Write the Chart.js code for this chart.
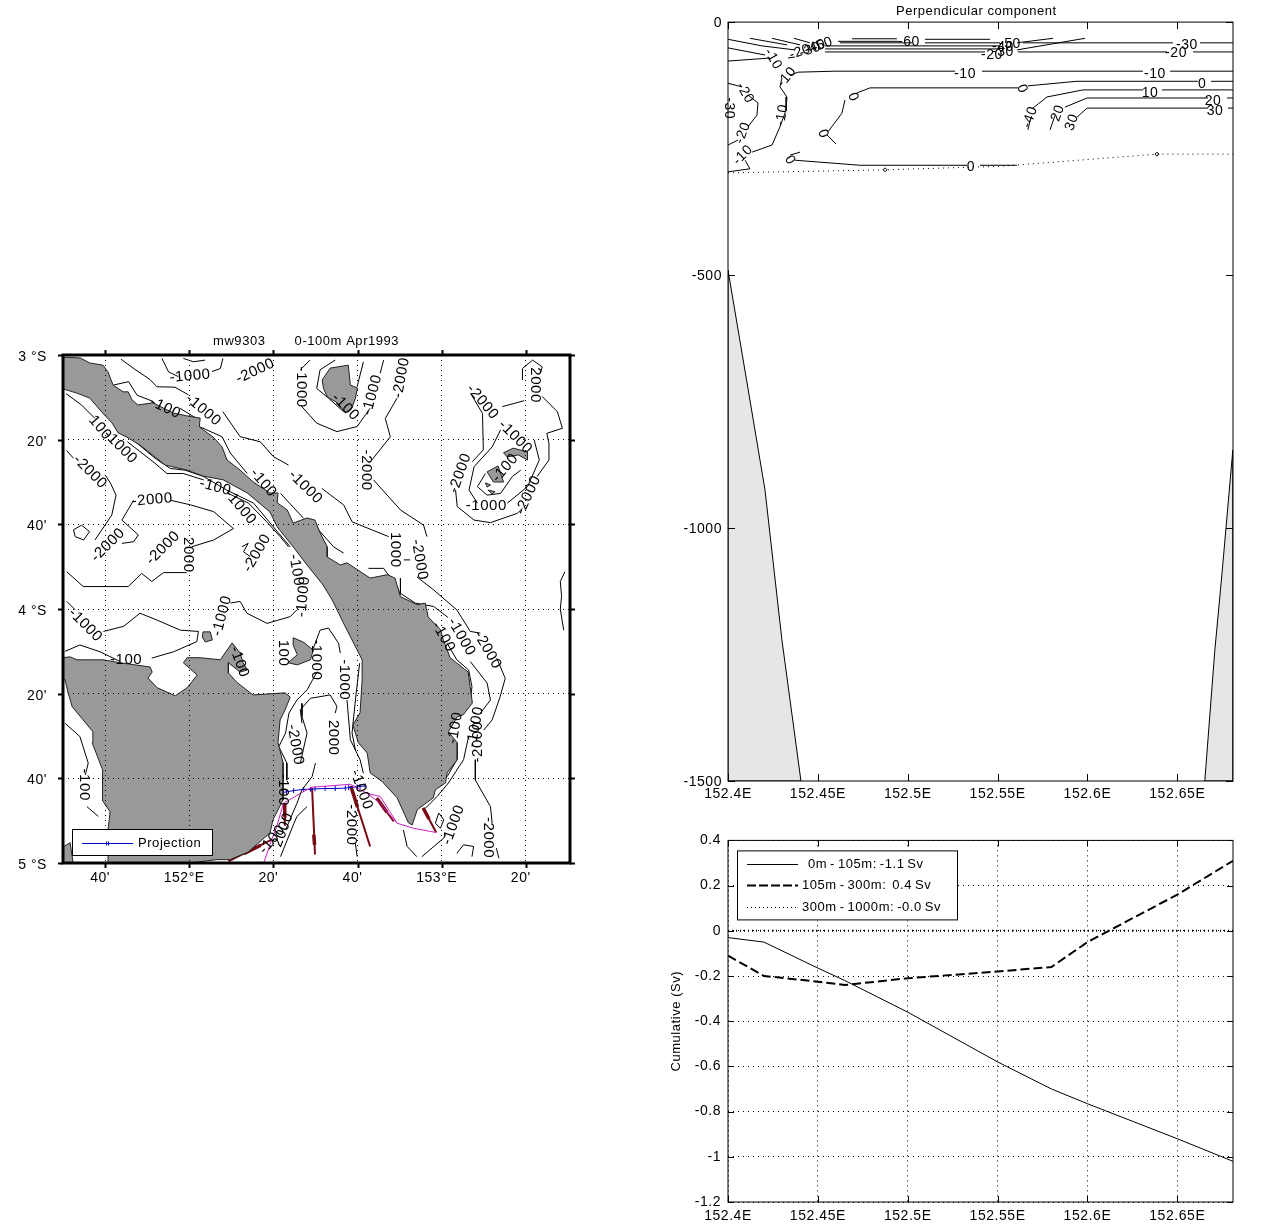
<!DOCTYPE html>
<html><head><meta charset="utf-8">
<style>html,body{margin:0;padding:0;background:#fff}canvas{position:absolute}</style>
<script src="https://cdn.jsdelivr.net/npm/chart.js@4"></script>
</head><body>
<canvas id="map" style="left:0;top:330px" width="600" height="570"></canvas>
<canvas id="sec" style="left:660px;top:0" width="604" height="810"></canvas>
<canvas id="cum" style="left:660px;top:825px" width="604" height="405"></canvas>
<script>
// ---------- MAP: x = arc-minutes east of 151E, y = arc-minutes south of 3S ----------
const mapXTicks=[40,60,80,100,120,140];
const mapXLabels=["40'","152°E","20'","40'","153°E","20'"];
const mapYTicks=[0,20,40,60,80,100,120];
const mapYLabels=["3 °S","20'","40'","4 °S","20'","40'","5 °S"];
const mapTitle="mw9303       0-100m Apr1993     ";
const landNewIreland=[[30,0.5],[34.1,0.7],[36.4,1.9],[39.5,2.4],[40.7,4],[41.9,7.1],[44.3,8.7],[45.5,8.7],[46.4,10.6],[47.8,11.8],[51.4,11.3],[53.8,12.5],[56.2,13.7],[59.5,14.4],[62.6,14.9],[62.4,17],[65.7,19.4],[67.8,21.7],[69,24.8],[72.1,27.2],[75.2,30],[79.2,32.6],[81.1,32.6],[80.9,34.9],[83.3,36.6],[84.7,39.7],[88,38.5],[89.9,39],[91.1,42],[92.8,45.3],[92.8,47.7],[95.9,49.6],[97.5,49.1],[103,52.7],[107.1,51.9],[108.9,52.7],[110.2,57.1],[114.2,59],[116.1,58.6],[116.8,61.9],[119.7,64.9],[120.4,67.3],[122,71.5],[126.3,74.9],[127.3,82.2],[125.1,85],[123.7,85.5],[121.6,89],[123.7,91.6],[123.7,95.6],[121.3,98.7],[120.9,101.1],[118.5,102.7],[118,104.6],[114.2,107.4],[113,111],[112.1,110.5],[109.4,104.6],[105.9,100.8],[103,98.7],[102.3,94],[100.2,91.6],[98.9,87.4],[100.6,84.5],[101.1,76.7],[101.1,72],[97.1,64.2],[94,57.9],[91.8,54.3],[88,49.6],[84.7,45.3],[80.9,40.6],[79.2,37.1],[73.8,32.6],[68.1,29.5],[63.3,28.6],[59.5,27.2],[54.3,26],[51.9,24.1],[48.3,21.3],[45.2,19.4],[43.1,18.4],[41.7,16.1],[38.8,13],[36.4,10.2],[33.3,9],[30,8]];
const landNewBritain=[[30,71.5],[31.7,71.3],[33.3,72],[36.4,72],[39.5,72],[43.6,72.7],[50.7,73.7],[51.2,74.9],[50.2,76.3],[52.4,78.6],[56.7,80.5],[59.5,78.6],[61.9,75.6],[58.6,72.7],[59.5,71.5],[62.6,71.5],[67.4,72],[69,69.7],[70.2,68],[72.1,70.4],[72.8,72.7],[73.8,74.4],[72.1,74.9],[69.3,72.7],[69.3,75.1],[71.4,77.4],[75.2,80.3],[82.8,79.8],[84,80.8],[82.8,83.8],[81.6,86.2],[81.1,91.6],[82.3,96.3],[82.3,105.1],[79.9,109.8],[79.2,112.9],[74,117.4],[69.7,119.2],[66.6,119.2],[60.2,120],[40.7,120],[40.7,112.2],[41.2,107.9],[39.3,105.1],[39.3,102.7],[39.5,98],[37.6,93.3],[36.9,91.6],[37.1,89],[34.8,86.2],[32.2,83.1],[31.2,79.8],[30.5,76.7],[30,76.7]];
const landCorner=[[30,116.2],[31.7,115.2],[32.4,120],[30,120]];
const landDukeYork=[[84.7,66.8],[87.1,67.8],[89.5,69.7],[88.8,72],[85.7,73.2],[83.5,72.7],[85.7,70.8],[84.7,68.5]];
const landSmall=[[63.3,65.4],[65,65.4],[65.5,67.3],[63.8,67.8],[63.1,66.6]];
const landLihir=[[91.6,5.9],[93.5,3.1],[97.8,2.4],[98.3,7.1],[100,7.8],[99.5,10.2],[98.7,12.5],[97.1,13.7],[95.2,11.3],[92.8,9.9],[91.9,7.8]];
const landTabarA=[[134.7,23.1],[137,22],[140.4,22.9],[140.4,24.8],[138.2,23.6],[135.6,24.1]];
const landTabarB=[[130.8,27.6],[133.4,26.2],[134.7,30],[132.3,30]];
const landTabarC=[[130.4,30.2],[131.6,30.7],[130.8,31.2]];
const landTabarD=[[131,31.9],[132.7,32.3],[132,32.8]];
const landPolys=[landNewIreland,landNewBritain,landCorner,landDukeYork,landSmall,landLihir,landTabarA,landTabarB,landTabarC,landTabarD];
const isobaths=[
[[43.8,1],[47.1,3.4],[50.7,5.8],[52.3,7.5],[56.6,7.6],[59.8,9.4]],
[[68,13.4],[72.1,19.3],[76.9,20.5],[80,24],[83.6,26]],
[[91.5,31.5],[96.7,35.4],[98.7,39.4],[103.4,41.3],[107.4,42.9]],
[[111,48.4],[112.5,48.4]],
[[109.4,10.2],[106.6,15],[107.8,19.3],[103.4,24.8]],
[[103.8,29.5],[110.2,36.6],[115.7,40.2],[116.5,42.9]],
[[114.1,52.4],[118.1,55.5],[123.6,60.2],[126.8,65.3],[129.2,65.7]],
[[133.1,71.6],[135.1,76.4],[133.9,80.7],[132,86.2],[130,88.6]],
[[128,95.6],[128,100.4],[131.6,106.7],[132,110.6]],
[[133,116.5],[133.6,118.9]],
[[110.2,52.7],[110.2,56.3],[113.7,58.6],[118.1,59.4],[121.5,62]],
[[126.8,72.4],[130.8,77.5],[131.6,81.5],[129.2,84.6]],
[[126.4,90.1],[125.2,95.6],[121.6,101.1],[118.9,104.3],[116.1,107.1]],
[[121.3,68.1],[123.6,72],[126.4,74.4],[127.2,78.3],[126.8,82.2],[124.4,85]],
[[123.2,91.7],[123.6,95.6],[121.3,99.6]],
[[110.9,112.2],[111.8,116.1],[114.1,118.5]],
[[115.3,118.5],[120.5,114.1],[120.9,113]],
[[123.6,117.7],[125.2,115.7],[127.6,116.1],[127.2,118.5]],
[[118.5,110.6],[119.3,108.2],[120.5,109.8],[119.7,111.8],[118.5,110.6]],
[[99.5,115.3],[99.9,118.5]],
[[149.3,51.2],[148.2,53.5],[148.5,57],[148.2,60],[149,65]],
[[86.8,87],[86.4,83.8],[88.8,81.1],[93.5,80.3],[95.1,83],[94.7,84.6]],
[[89.5,69.3],[91.1,65],[93.1,64.5],[95.5,68.1],[95.9,70.4]],
[[97.5,81.5],[98.3,90.9],[100.6,95.6],[101.4,98.8]],
[[100.5,72.8],[99.5,81.5],[98.7,89.3],[99.5,93.3]],
[[86.8,82.3],[86.8,85.4],[88,89.3],[86.4,96.4]],
[[90,96.4],[89.2,99.6],[86.8,102.7],[85.6,105.9],[82.9,112.2]],
[[83.7,84.6],[82.9,89.3],[81.3,92.5],[83.2,96.4],[83.2,100.4]],
[[88,106.7],[85.6,109],[84.9,110.6],[81.7,118.5]],
[[30.5,70],[34,68.5],[38.8,70.1],[43.6,72.4]],
[[51.1,71.6],[56.3,70.1],[61.8,67.7],[62.2,65.3],[57.9,65],[52.3,62.6],[48.3,61],[44.4,64.1],[39.6,65.3]],
[[30.9,58.2],[32.9,60.2]],
[[69.8,58.6],[72.1,58.2],[73.7,61],[78.5,63.4],[84,61.8],[85.6,60.2]],
[[90.4,74.8],[88,79.1],[85.6,81.5],[83.7,84.6]],
[[30.5,87],[34,90.1],[36,96.4],[35.3,99.2]],
[[35.7,106.7],[38.4,109]],
[[30.9,22.6],[32.5,24.4]],
[[40,28.3],[41.3,30.3],[42.6,33.1],[41.6,37.8],[37.6,43.7]],
[[46.8,34.3],[44,39],[47.9,42.5],[46.8,44.1],[44,44.5]],
[[55.5,34.3],[60.3,35.4],[65.8,37],[70.5,41],[65.8,43.7],[60.6,45.3]],
[[30.9,51.2],[34.8,54.7],[40.4,54.7],[45.5,54.7],[48.7,51.6],[51.1,53.5],[53.9,51.4],[59.4,51.4]],
[[32.5,41.3],[34.4,40.2],[36.3,41.7],[34.9,43.7],[32.9,42.9],[32.5,41.3]],
[[72.5,45.3],[74,44.5],[72.9,46.5],[74.5,47.6]],
[[58.6,0.8],[61,1.6],[63.8,1.2]],
[[53.5,0.8],[55.1,4],[57.4,5.1]],
[[65.4,3.9],[67.4,3.2],[68,0.8]],
[[30.7,9.1],[34.4,11.8],[37.6,15]],
[[45.3,20.5],[48.3,22.8],[51.9,25.6],[54.7,28],[58.6,28],[63.4,29.5]],
[[69.3,32.7],[74.1,35],[78.4,39.4],[81.6,42.9],[83.6,45.3]],
[[46.7,20.1],[51.9,24.4],[55.5,26.8],[59,27.2],[63.4,28.7],[68.9,31.9],[75.3,35],[80,40.6],[84,45.3]],
[[42,7.1],[45.6,6.3],[47.6,9.5],[51.5,11]],
[[57.8,12.6],[61.8,15]],
[[62.6,17],[67.8,19.3],[69.8,23.2],[73.8,28]],
[[81.7,32.7],[87.2,38.6]],
[[90,40.5],[94.3,45.3],[96.7,46.8]],
[[102.6,50.4],[106.2,50.4],[109.4,54.7],[110.2,56.7]],
[[90.3,7.9],[91.1,3.5],[94.7,1.2]],
[[90.3,7.9],[93.1,10.2],[96.7,13.4]],
[[86.4,11.8],[90.3,16.1],[95.1,18.1],[99.9,16.9],[103,12.6]],
[[105.4,4.3],[106.2,1.2]],
[[99.9,7.5],[101.4,1.6]],
[[88.7,1.2],[86.4,3.5]],
[[126.9,9.1],[129.7,13.8],[129.9,22.4],[127.3,25.2]],
[[123.3,31.9],[123.7,35.8],[127.7,39],[131.6,39.6],[138,37.4],[139.2,36.2]],
[[142.7,28.7],[145.5,24.8],[145.5,20.9],[145,18.5],[148.7,17.3],[147.5,13.4],[143.9,9.8]],
[[139.2,5.9],[139.2,3.2],[141.6,1.2],[143.9,2.8],[143.5,4.3]],
[[134.4,12.2],[139.6,10.8]],
[[134,17.7],[132,21.7],[127.7,26.4],[126.5,31.9],[128.5,35]],
[[135.6,35],[140.4,31.1],[143.2,24.8],[142,20.1]],
[[130.4,28],[128.5,31.1],[130.8,33.1],[134,32.7],[136.8,28.7],[138.8,27.2]]
];
const mapContourLabels=[
[60.2,5,"-1000",-5],[75.7,3.8,"-2000",-25],[86.6,7.6,"-1000",90],[63.3,13,"-1000",40],[97.1,12.3,"-100",45],[103.5,9.4,"-1000",-75],[110.4,5.4,"-2000",-80],[129.7,11.1,"-2000",50],[142.3,7.1,"2000",90],[54.3,12.5,"-100",25],[38.8,17.2,"100",50],[43.6,21.7,"-1000",45],[36.4,27.6,"-2000",45],[51.2,34.2,"-2000",-5],[66.2,31.2,"-100",15],[72.1,35.9,"-1000",50],[77.6,30.2,"-100",50],[87.6,31.2,"-1000",45],[102.1,27.2,"-2000",90],[124.4,27.9,"-2000",-70],[137.5,19.4,"-1000",45],[135.1,26.7,"-100",-50],[130.6,35.7,"-1000",0],[140.6,33.1,"-2000",-65],[40.7,44.9,"-2000",-45],[53.8,45.6,"-2000",-45],[59.7,47.2,"2000",90],[76.1,46.8,"-2000",-60],[108.9,46,"1000",90],[114.7,48.4,"-2000",80],[85.4,50.8,"-100",80],[87.1,57.1,"-1000",-85],[35.3,63.8,"-1000",45],[67.8,61.6,"-1000",-75],[45,72,"-100",0],[71.9,72.5,"-100",70],[82.3,70.4,"100",90],[90.2,72,"-1000",90],[96.8,76.7,"-1000",90],[120.4,66.6,"-100",60],[124.7,66.6,"-1000",60],[130.9,69.7,"-2000",60],[123.2,88.1,"-100",-80],[128,87.8,"-1000",-80],[128.7,91.4,"-2000",-90],[94.2,90.4,"2000",90],[85.2,92.1,"-2000",80],[35,101.5,"-100",90],[82.3,102.7,"-100",90],[100.9,102.7,"-1000",70],[98.5,111,"-2000",90],[122.8,111,"-1000",-70],[131.1,114,"-2000",90],[82.3,112.2,"2000",-70],[79.7,114.5,"-100",-50]
];
const transectPath=[[77.7,120],[79.6,114.5],[80.8,111.4],[82.4,105.9],[87.2,103.1],[89.2,102.1],[98.3,101.4],[102.2,103.5],[105.4,105.9],[109.4,110.6],[113.3,111.8],[118.7,112.8]];
const transectBranch=[[102.2,103.5],[105.4,104.3],[107.4,107.4],[109.4,110.6]];
const projection=[[82.4,103.3],[83.1,103.2],[84.8,102.9],[87.2,102.6],[88.8,102.6],[89.9,102.5],[92.3,102.4],[94.7,102.4],[97.1,102.3],[97.9,102.2],[99.9,102],[100.6,101.9],[101.8,101.8]];
const currentArrows=[
[[79.6,114.5],[69.3,119.6]],
[[82.6,111],[82.7,105.9]],
[[89.2,102.3],[89.9,118]],
[[98.4,101.8],[103,116.1]],
[[104.6,104.7],[108.6,110.2]],
[[115.6,107],[118.7,112.8]]
];
const arrowSwells=[
[[77,115.8],[73,117.8]],
[[82.65,109],[82.7,105.9]],
[[89.6,113.3],[89.8,115.7]],
[[98.4,101.8],[100,106.8]],
[[104.6,104.7],[107,108]],
[[115.6,107],[117,109.6]]
];
// ---------- SECTION ----------
const lonTicks=[152.4,152.45,152.5,152.55,152.6,152.65];
const lonLabels=["152.4E","152.45E","152.5E","152.55E","152.6E","152.65E"];
const depthTicks=[0,-500,-1000,-1500];
const bathyLeft=[[152.4,-490],[152.4122,-747],[152.4206,-925],[152.43,-1221],[152.4406,-1500],[152.4,-1500]];
const bathyRight=[[152.6809,-846],[152.6748,-1093],[152.6709,-1241],[152.6653,-1500],[152.6809,-1500]];
const velocityContours=[
[[152.4,-34],[152.4189,-47],[152.4373,-55]],
[[152.4122,-32],[152.4328,-45]],
[[152.4245,-32],[152.4401,-45]],
[[152.4367,-32],[152.4456,-41]],
[[152.4,-51],[152.4206,-65]],
[[152.4,-77],[152.4234,-71]],
[[152.4334,-71],[152.4373,-69]],
[[152.469,-33],[152.494,-33]],
[[152.4612,-38],[152.495,-38]],
[[152.5096,-34],[152.5458,-34]],
[[152.4623,-41],[152.5025,-41]],
[[152.5096,-41],[152.5514,-41]],
[[152.454,-47],[152.5514,-47]],
[[152.454,-53],[152.5514,-53]],
[[152.454,-59],[152.5,-59],[152.543,-59]],
[[152.5608,-41],[152.5809,-32]],
[[152.5608,-55],[152.5987,-32]],
[[152.5614,-59],[152.5903,-59],[152.6443,-59]],
[[152.6588,-59],[152.681,-59]],
[[152.5642,-41],[152.6476,-41]],
[[152.6627,-41],[152.681,-41]],
[[152.4345,-105],[152.439,-99],[152.4595,-97],[152.5263,-97]],
[[152.5413,-97],[152.6309,-97]],
[[152.646,-97],[152.681,-97]],
[[152.43,-111],[152.4289,-128],[152.4328,-148],[152.4323,-174],[152.4289,-207],[152.4245,-243],[152.4134,-257]],
[[152.4095,-273],[152.4122,-290]],
[[152.4,-296],[152.4122,-290]],
[[152.4,-121],[152.4078,-128]],
[[152.4111,-144],[152.4167,-160],[152.4161,-184],[152.4111,-207]],
[[152.4056,-233],[152.4,-243]],
[[152.681,-117],[152.6688,-117]],
[[152.6615,-117],[152.5942,-117],[152.5669,-126]],
[[152.5614,-130],[152.479,-130],[152.4718,-140]],
[[152.4651,-154],[152.4634,-180],[152.4556,-217]],
[[152.4551,-223],[152.4601,-241]],
[[152.5697,-170],[152.5775,-148],[152.5975,-134],[152.6309,-134]],
[[152.6415,-134],[152.681,-134]],
[[152.5681,-194],[152.5669,-213]],
[[152.5875,-168],[152.5998,-150],[152.6671,-150]],
[[152.6777,-150],[152.681,-150]],
[[152.582,-184],[152.5792,-213]],
[[152.5942,-188],[152.5998,-170],[152.6671,-170]],
[[152.6782,-170],[152.681,-170]],
[[152.4373,-273],[152.4735,-283],[152.533,-283]],
[[152.5402,-283],[152.5608,-283]],
[[152.4345,-263],[152.4401,-257]]
];
const mixedLayerBase=[[152.4,-298],[152.4874,-292],[152.5514,-285],[152.6387,-261],[152.681,-261]];
const baseMarkers=[[152.4874,-292],[152.6387,-261]];
const sectionLabels=[
[152.5007,-40,"-60",0],[152.4401,-59,"-20",-20],[152.4456,-55,"-30",-20],[152.4484,-49,"-40",-20],[152.4523,-45,"-50",-20],[152.5469,-65,"-20",0],[152.553,-59,"-30",0],[152.553,-49,"-40",0],[152.5569,-43,"-50",0],[152.6554,-45,"-30",0],[152.6493,-61,"-20",0],[152.5319,-103,"-10",0],[152.6376,-103,"-10",0],[152.6638,-123,"0",0],[152.6348,-140,"10",0],[152.6699,-156,"20",0],[152.671,-176,"30",0],[152.5636,-132,"0",70],[152.4696,-148,"0",70],[152.4529,-221,"0",70],[152.5681,-188,"-40",-70],[152.5836,-180,"20",-70],[152.5914,-198,"30",-70],[152.4328,-109,"-10",-50],[152.43,-184,"-10",-80],[152.4095,-140,"-20",60],[152.4083,-219,"-20",-70],[152.4083,-263,"-10",-45],[152.4345,-273,"0",60],[152.5352,-287,"0",0],[152.4006,-170,"-30",90],[152.425,-73,"-10",60]
];
// ---------- CUMULATIVE ----------
const cumLon=[152.4,152.42,152.45,152.465,152.5,152.55,152.58,152.6,152.65,152.681];
const cumShallow=[-0.03,-0.05,-0.165,-0.22,-0.36,-0.58,-0.70,-0.765,-0.92,-1.02];
const cumMid=[-0.11,-0.20,-0.225,-0.24,-0.21,-0.18,-0.16,-0.05,0.16,0.31];
const cumDeep=[0,0,0,0,0,0,0,0,0,0];
const cumYTicks=[0.4,0.2,0,-0.2,-0.4,-0.6,-0.8,-1,-1.2];
const cumNames=["0m - 105m: -1.1 Sv","105m - 300m:  0.4 Sv","300m - 1000m: -0.0 Sv"];

const FONT="'Liberation Sans',Arial,sans-serif";
const SPACING='0.55px';
const pairs=a=>a.map(p=>({x:p[0],y:p[1]}));
const zip=(xs,ys)=>xs.map((x,i)=>({x,y:ys[i]}));
const line=(pts,o)=>Object.assign({data:pairs(pts),borderColor:'#000',borderWidth:1,pointRadius:0,tension:0,fill:false},o||{});
const closed=a=>a.concat([a[0]]);

const panel={id:'panel',
 beforeDraw(c){c.ctx.letterSpacing=SPACING;},
 afterDraw(c,args,o){
  const ctx=c.ctx,a=c.chartArea,sx=c.scales.x,sy=c.scales.y;
  ctx.save();
  if(o.labels){ctx.font=o.labelFont;ctx.fillStyle='#000';ctx.textAlign='center';ctx.textBaseline='middle';
   o.labels.forEach(l=>{ctx.save();ctx.translate(sx.getPixelForValue(l[0]),sy.getPixelForValue(l[1]));ctx.rotate(l[3]*Math.PI/180);ctx.fillText(l[2],0,0);ctx.restore();});}
  if(o.legend){const L=o.legend;ctx.fillStyle='#fff';ctx.strokeStyle='#000';ctx.lineWidth=1;
   const bx=a.left+L.dx,by=(L.fromBottom?a.bottom-L.dy:a.top+L.dy);
   ctx.fillRect(bx,by,L.w,L.h);ctx.strokeRect(bx+.5,by+.5,L.w-1,L.h-1);
   ctx.font='13px '+FONT;ctx.wordSpacing='-1.2px';ctx.textBaseline='middle';ctx.textAlign='left';
   L.items.forEach((it,i)=>{const y=Math.round(by+L.rows[i])+.5;
    ctx.save();ctx.strokeStyle=it.color;ctx.lineWidth=it.width;ctx.setLineDash(it.dash||[]);
    ctx.beginPath();ctx.moveTo(bx+L.lx0,y);ctx.lineTo(bx+L.lx1,y);ctx.stroke();ctx.restore();
    if(it.mark){ctx.strokeStyle=it.color;ctx.beginPath();[-1,1].forEach(d=>{const m=bx+(L.lx0+L.lx1)/2+d;ctx.moveTo(m,y-2);ctx.lineTo(m,y+2);});ctx.stroke();}
    ctx.fillStyle='#000';ctx.fillText(it.text,bx+L.tx+(it.dx||0),y);});
   ctx.wordSpacing='0px';}
  ctx.strokeStyle='#000';ctx.lineWidth=o.tickWidth;ctx.beginPath();
  const T=o.tickLen;
  sx.ticks.forEach(t=>{const p=Math.round(sx.getPixelForValue(t.value))+.5;ctx.moveTo(p,a.top);ctx.lineTo(p,a.top-T);ctx.moveTo(p,a.bottom);ctx.lineTo(p,a.bottom+T);});
  sy.ticks.forEach(t=>{const p=Math.round(sy.getPixelForValue(t.value))+.5;ctx.moveTo(a.left,p);ctx.lineTo(a.left-T,p);ctx.moveTo(a.right,p);ctx.lineTo(a.right+T,p);});
  ctx.stroke();
  ctx.lineWidth=o.frame;ctx.strokeRect(a.left,a.top,a.right-a.left,a.bottom-a.top);
  ctx.restore();
 }};
Chart.register(panel);

function axis(ticks,fmt,min,max,o){
 return Object.assign({type:'linear',min,max,
  afterBuildTicks:s=>{s.ticks=ticks.map(v=>({value:v}));},
  ticks:{autoSkip:false,maxRotation:0,minRotation:0,color:'#000',font:{family:FONT,size:14},padding:o.pad,labelOffset:o.lo||0,callback:fmt},
  grid:{display:!!o.grid,drawTicks:false,z:o.gridZ||0,color:'#000',lineWidth:1},
  border:{display:false,dash:[1,4]},
  afterFit:s=>{if(o.w!==undefined)s.width=o.w;if(o.h!==undefined)s.height=o.h;}
 },o.extra||{});
}
const base=(pad)=>({responsive:false,animation:false,events:[],layout:{autoPadding:false,padding:pad}});

new Chart(document.getElementById('map'),{type:'line',
 data:{datasets:[
  ...landPolys.map(p=>line(closed(p),{backgroundColor:'#999999',fill:'shape',borderColor:'#222'})),
  ...isobaths.map(p=>line(p)),
  line(transectPath,{borderColor:'#d020c0'}),
  line(transectBranch,{borderColor:'#d020c0'}),
  line(projection,{borderColor:'#0000c8',pointStyle:'line',rotation:90,pointRadius:2.5,pointBorderWidth:1,pointBorderColor:'#0000c8'}),
  ...currentArrows.map(p=>line(p,{borderColor:'#7a0a12',borderWidth:2})),
  ...arrowSwells.map(p=>line(p,{borderColor:'#7a0a12',borderWidth:3.5}))
 ]},
 options:Object.assign(base({left:0,right:30,top:0,bottom:0}),{
  plugins:{legend:{display:false},tooltip:{enabled:false},
   title:{display:true,text:mapTitle,color:'#000',fullSize:false,font:{family:FONT,size:13,weight:'normal'},padding:{top:4,bottom:5.4}},
   panel:{frame:3,tickWidth:2,tickLen:5,labels:mapContourLabels,labelFont:'15px '+FONT,
    legend:{dx:9,dy:34,fromBottom:true,w:141,h:27,rows:[13.5],lx0:10,lx1:61,tx:66,items:[{color:'#0000c8',width:1,text:'Projection',mark:true}]}}},
  scales:{
   x:axis(mapXTicks,(v)=>mapXLabels[mapXTicks.indexOf(v)],30,150.5,{pad:7,h:37,grid:true,gridZ:1,lo:-5}),
   y:axis(mapYTicks,(v)=>mapYLabels[mapYTicks.indexOf(v)],0,120,{pad:16,w:63,grid:true,gridZ:1,lo:2,extra:{reverse:true}})
  }})});

new Chart(document.getElementById('sec'),{type:'line',
 data:{datasets:[
  line(closed(bathyLeft),{backgroundColor:'#e6e6e6',fill:'shape'}),
  line(closed(bathyRight),{backgroundColor:'#e6e6e6',fill:'shape'}),
  ...velocityContours.map(p=>line(p)),
  line(mixedLayerBase,{borderDash:[1,4]}),
  line(baseMarkers,{showLine:false,pointStyle:'rectRot',pointRadius:2,pointBorderColor:'#000',pointBackgroundColor:'#fff'})
 ]},
 options:Object.assign(base({left:0,right:31,top:0,bottom:0}),{
  plugins:{legend:{display:false},tooltip:{enabled:false},
   title:{display:true,text:'Perpendicular component  ',color:'#000',fullSize:false,font:{family:FONT,size:13,weight:'normal'},padding:{top:3.5,bottom:3}},
   panel:{frame:1,tickWidth:1,tickLen:-7,labels:sectionLabels,labelFont:'14px '+FONT}},
  scales:{
   x:axis(lonTicks,(v)=>lonLabels[lonTicks.indexOf(v)],152.4,152.681,{pad:5,h:29}),
   y:axis(depthTicks,(v)=>String(v),-1500,0,{pad:6,w:68,lo:1})
  }})});

new Chart(document.getElementById('cum'),{type:'line',
 data:{datasets:[
  {label:cumNames[0],data:zip(cumLon,cumShallow),borderColor:'#000',borderWidth:1,pointRadius:0,tension:0,fill:false},
  {label:cumNames[1],data:zip(cumLon,cumMid),borderColor:'#000',borderWidth:2,borderDash:[9,4],pointRadius:0,tension:0,fill:false},
  {label:cumNames[2],data:zip(cumLon,cumDeep),borderColor:'#000',borderWidth:2,borderDash:[1,3],pointRadius:0,tension:0,fill:false}
 ]},
 options:Object.assign(base({left:0,right:31,top:14,bottom:0}),{
  plugins:{legend:{display:false},tooltip:{enabled:false},
   panel:{frame:1,tickWidth:1,tickLen:-6,
    legend:{dx:9,dy:10,w:221,h:70,rows:[14,35,57],lx0:10,lx1:61,tx:65,items:[
     {color:'#000',width:1,text:cumNames[0],dx:6},
     {color:'#000',width:2,dash:[9,3],text:cumNames[1]},
     {color:'#000',width:1,dash:[1,3],text:cumNames[2]}]}}},
  scales:{
   x:axis(lonTicks,(v)=>lonLabels[lonTicks.indexOf(v)],152.4,152.681,{pad:6,h:28,grid:true}),
   y:axis(cumYTicks,(v)=>String(v),-1.2,0.4,{pad:7,w:68,grid:true,extra:{title:{display:true,text:'Cumulative (Sv)',color:'#000',font:{family:FONT,size:13},padding:{top:9,bottom:0}}}})
  }})});
</script>
</body></html>
